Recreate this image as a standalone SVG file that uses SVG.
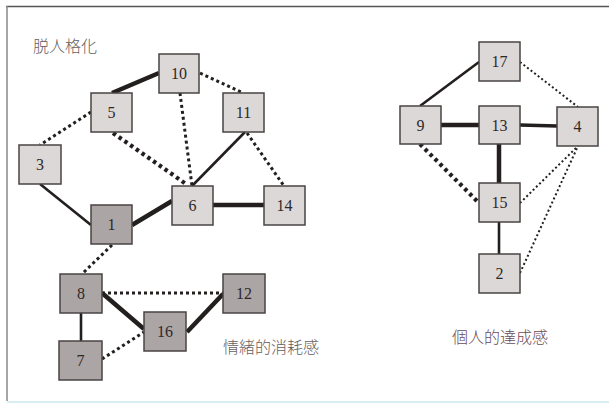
<svg xmlns="http://www.w3.org/2000/svg" width="609" height="405" viewBox="0 0 609 405">
  <style>
    .node rect { stroke: #4a4444; stroke-width: 1.5; }
    .lt rect { fill: #dcd8d8; }
    .dk rect { fill: #aba5a5; }
    .node text { font-family: "Liberation Serif", serif; font-size: 16px; fill: #2e2828; text-anchor: middle; dominant-baseline: central; }
    .edges line { stroke: #241f1f; fill: none; }
    .thick { stroke-width: 4.5; }
    .solid { stroke-width: 2.6; }
    .thickdot { stroke-width: 4.2; stroke-dasharray: 3.5 3.5; }
    .dot { stroke-width: 3; stroke-dasharray: 3 3; }
    .thindot { stroke-width: 2; stroke-dasharray: 2 2.5; }
    .label { font-family: "Noto Sans CJK JP", "Noto Sans CJK SC", sans-serif; font-size: 16px; font-weight: 300; }
  </style>

  <rect x="0" y="0" width="609" height="405" fill="#ffffff"/>
  <!-- frame -->
  <line x1="6" y1="6.5" x2="609" y2="6.5" stroke="#555" stroke-width="1.5"/>
  <line x1="7" y1="6" x2="7" y2="401" stroke="#888" stroke-width="1.5"/>
  <line x1="7" y1="402" x2="609" y2="402" stroke="#d8eef2" stroke-width="2"/>

  <g class="edges">
    <!-- depersonalization cluster -->
    <line class="thick" x1="112" y1="93" x2="159" y2="73"/>
    <line class="dot" x1="200" y1="73" x2="243" y2="93"/>
    <line class="dot" x1="180" y1="93" x2="192" y2="186"/>
    <line class="dot" x1="91" y1="112" x2="40" y2="145"/>
    <line class="thickdot" x1="113" y1="133" x2="186" y2="184"/>
    <line class="solid" x1="245" y1="132" x2="192" y2="186"/>
    <line class="dot" x1="247" y1="133" x2="284" y2="186"/>
    <line class="solid" x1="40" y1="184" x2="91" y2="225"/>
    <line class="thick" x1="132" y1="225" x2="172" y2="201"/>
    <line class="thick" x1="213" y1="205" x2="264" y2="205"/>
    <!-- emotional exhaustion cluster -->
    <line class="dot" x1="112" y1="245" x2="83" y2="273"/>
    <line class="dot" x1="102" y1="293" x2="223" y2="293"/>
    <line class="thick" x1="102" y1="293" x2="144" y2="329"/>
    <line class="thick" x1="187" y1="332" x2="223" y2="294"/>
    <line class="solid" x1="81" y1="313" x2="81" y2="341"/>
    <line class="dot" x1="102" y1="359" x2="144" y2="332"/>
    <!-- personal accomplishment cluster -->
    <line class="solid" x1="479" y1="62" x2="420" y2="106"/>
    <line class="thindot" x1="520" y1="62" x2="578" y2="107"/>
    <line class="thick" x1="441" y1="125" x2="479" y2="125"/>
    <line class="thick" x1="520" y1="125" x2="557" y2="126" style="stroke-width:3.4"/>
    <line class="thick" x1="499" y1="144" x2="499" y2="183"/>
    <line class="thickdot" x1="420" y1="144" x2="478" y2="202"/>
    <line class="solid" x1="499" y1="222" x2="499" y2="254"/>
    <line class="thindot" x1="520" y1="203" x2="578" y2="146"/>
    <line class="thindot" x1="520" y1="273" x2="578" y2="146"/>
  </g>

  <g id="n10" class="node lt"><rect x="159" y="54" width="40" height="39"/><text x="179" y="73.5">10</text></g>
  <g id="n5" class="node lt"><rect x="91" y="93" width="41" height="39"/><text x="111.5" y="112.5">5</text></g>
  <g id="n11" class="node lt"><rect x="223" y="93" width="41" height="39"/><text x="243.5" y="112.5">11</text></g>
  <g id="n3" class="node lt"><rect x="19" y="145" width="42" height="39"/><text x="40" y="164.5">3</text></g>
  <g id="n6" class="node lt"><rect x="172" y="186" width="41" height="39"/><text x="192.5" y="205.5">6</text></g>
  <g id="n14" class="node lt"><rect x="264" y="186" width="41" height="39"/><text x="284.5" y="205.5">14</text></g>
  <g id="n1" class="node dk"><rect x="91" y="205" width="41" height="39"/><text x="111.5" y="224.5">1</text></g>
  <g id="n8" class="node dk"><rect x="60" y="274" width="42" height="39"/><text x="81" y="293.5">8</text></g>
  <g id="n12" class="node dk"><rect x="223" y="274" width="42" height="39"/><text x="244" y="293.5">12</text></g>
  <g id="n16" class="node dk"><rect x="144" y="312" width="42" height="39"/><text x="165" y="331.5">16</text></g>
  <g id="n7" class="node dk"><rect x="59" y="341" width="43" height="39"/><text x="80.5" y="360.5">7</text></g>

  <g id="n17" class="node lt"><rect x="479" y="42" width="41" height="39"/><text x="499.5" y="61.5">17</text></g>
  <g id="n9" class="node lt"><rect x="400" y="106" width="41" height="38"/><text x="420.5" y="125">9</text></g>
  <g id="n13" class="node lt"><rect x="479" y="106" width="41" height="38"/><text x="499.5" y="125">13</text></g>
  <g id="n4" class="node lt"><rect x="557" y="107" width="41" height="39"/><text x="577.5" y="126.5">4</text></g>
  <g id="n15" class="node lt"><rect x="479" y="183" width="41" height="39"/><text x="499.5" y="202.5">15</text></g>
  <g id="n2" class="node lt"><rect x="479" y="254" width="41" height="39"/><text x="499.5" y="273.5">2</text></g>

  <text class="label" x="33" y="52" fill="#666060">脱人格化</text>
  <text class="label" x="223" y="353" fill="#666060">情緒的消耗感</text>
  <text class="label" x="452" y="343" fill="#6a4c5a">個人的達成感</text>
</svg>
